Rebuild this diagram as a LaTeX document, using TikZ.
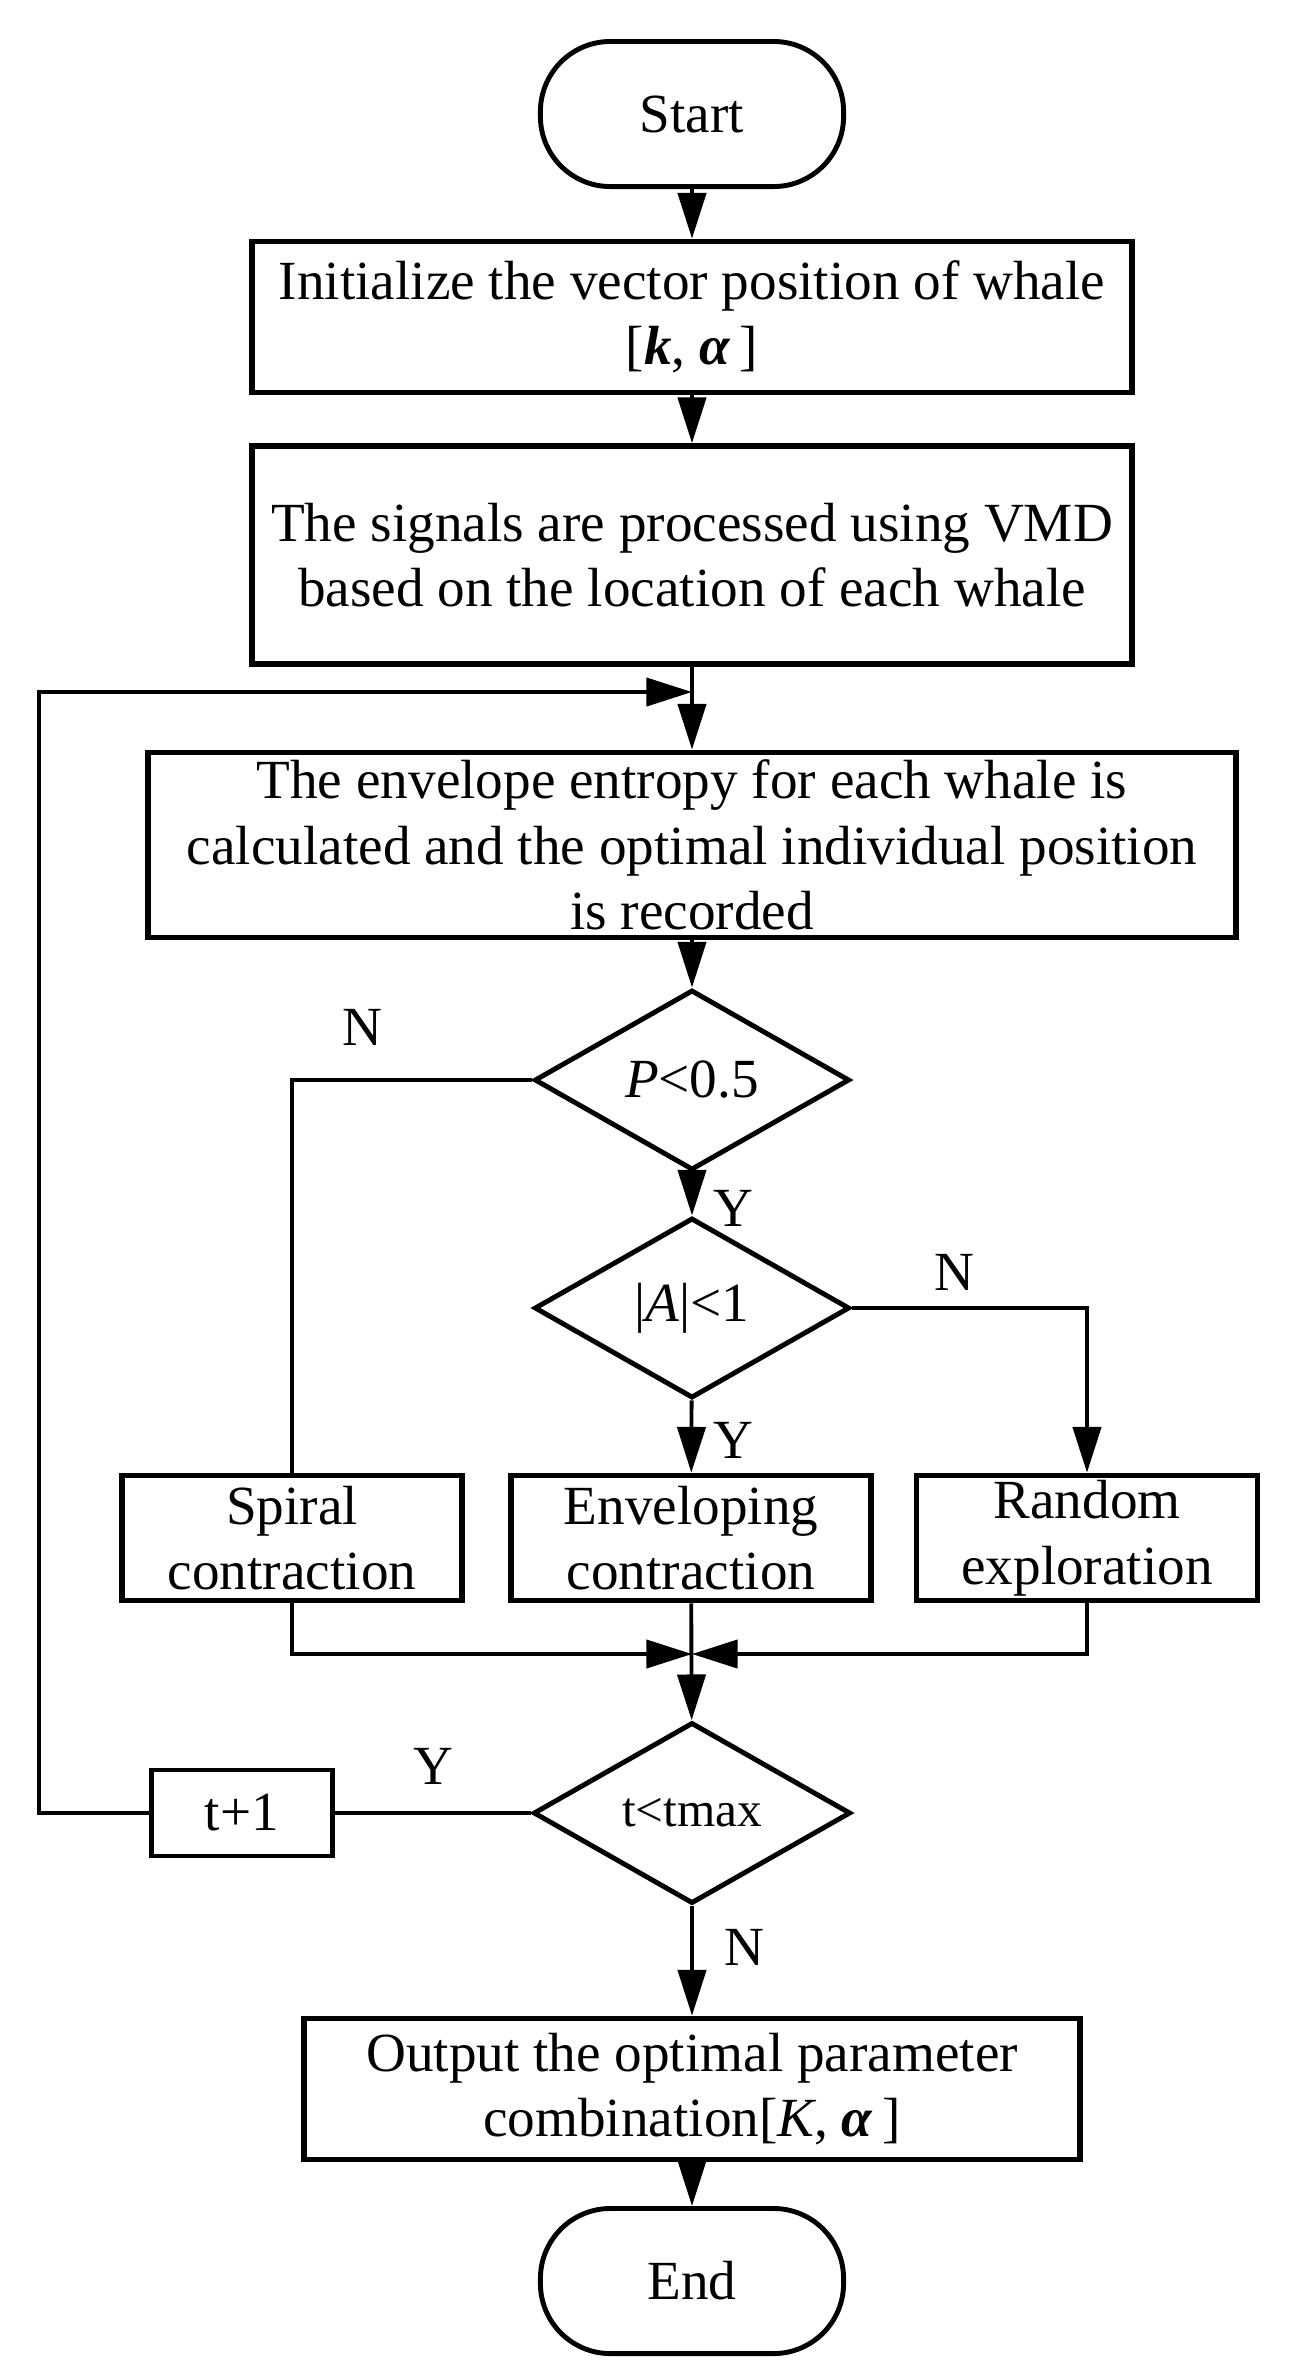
\documentclass[tikz,border=0pt]{standalone}
\usepackage{fontspec}
\setmainfont{Liberation Serif}
\usetikzlibrary{shapes.geometric,arrows.meta}
\tikzset{
	box/.style={draw, line width=1.6pt, align=center, inner sep=0pt},
	term/.style={draw, line width=1.4pt, rounded corners=0.7cm, minimum width=3.03cm, minimum height=1.45cm},
	cond/.style={draw, diamond, line width=1.4pt, inner sep=0pt, minimum width=3.15cm, minimum height=1.8cm},
	arr/.style={line width=1.1pt, -{Triangle[length=13pt,width=8pt]}},
	wire/.style={line width=1.1pt},
	lbl/.style={inner sep=0pt}
}

\begin{document}
\begin{tikzpicture}[x=0.01cm, y=0.01cm, font=\fontsize{15.7pt}{18.6pt}\selectfont]
			%%%%% START %%%%%
			\useasboundingbox (0,0) rectangle (1295,-2371);
			
			\node[term] (start) at (692,-114) {Start};
			\node[box, minimum width=8.8cm, minimum height=1.51cm] (init) at (692,-317) {Initialize the vector position of whale\\{}[\textbf{\textit{k}}, \textbf{\textit{α}}\,]};
			\node[box, minimum width=8.8cm, minimum height=2.18cm] (vmd) at (692,-555) {The signals are processed using VMD\\based on the location of each whale};
			\node[box, minimum width=10.87cm, minimum height=1.85cm] (envl) at (692,-845) {The envelope entropy for each whale is\\calculated and the optimal individual position\\is recorded};
			
			\node[cond] (p) at (692,-1080) {\textit{P}<0.5};
			\node[cond] (a) at (692,-1308) {|\textit{A}|<1};
			
			\node[box, minimum width=3.4cm, minimum height=1.25cm] (spiral) at (292,-1538) {Spiral\\contraction};
			\node[box, minimum width=3.6cm, minimum height=1.25cm] (envc) at (691,-1538) {Enveloping\\contraction};
			\node[box, minimum width=3.41cm, minimum height=1.25cm] (rand) at (1087,-1538) {Random\\exploration};
			
			\node[cond, minimum width=3.17cm, minimum height=1.81cm] (t) at (692,-1813) {\fontsize{14pt}{16pt}\selectfont t<tmax};
			\node[box, line width=1.2pt, minimum width=1.81cm, minimum height=0.86cm] (tp1) at (242,-1813) {t+1};
			
			\node[box, minimum width=7.75cm, minimum height=1.41cm] (out) at (692,-2089) {Output the optimal parameter\\combination[\textit{K}, \textbf{\textit{α}}\,]};
			\node[term] (end) at (692,-2281) {End};
			
			\coordinate (fb) at (692,-692);
			\coordinate (loop) at (39,-692);
			\coordinate (mrg) at (692,-1654);
			
			\draw[arr] (start) -- (init);
			\draw[arr] (init) -- (vmd);
			\draw[arr] (vmd) -- (envl);
			\draw[arr] (envl) -- (p);
			\draw[arr] (p) -- (a);
			\draw[arr] (a) -- (envc);
			\draw[wire] (p.west) -| (spiral.north);
			\draw[arr] (a.east) -| (rand.north);
			
			\draw[arr] (envc) -- (t);
			\draw[arr] (spiral.south) |- (mrg);
			\draw[arr] (rand.south) |- (mrg);
			
			\draw[wire] (t.west) -- (tp1.east);
			\draw[arr] (tp1.west) -| (loop) -- (fb);
			\draw[arr] (t) -- (out);
			\draw[arr] (out) -- (end);
			
			\node[lbl] (np) at (362,-1027) {N};
			\node[lbl] (yp) at (733,-1208) {Y};
			\node[lbl] (na) at (954,-1272) {N};
			\node[lbl] (ya) at (733,-1440) {Y};
			\node[lbl] (yt) at (433,-1766) {Y};
			\node[lbl] (nt) at (744,-1947) {N};
			%%%%% END %%%%%
\end{tikzpicture}
\end{document}
